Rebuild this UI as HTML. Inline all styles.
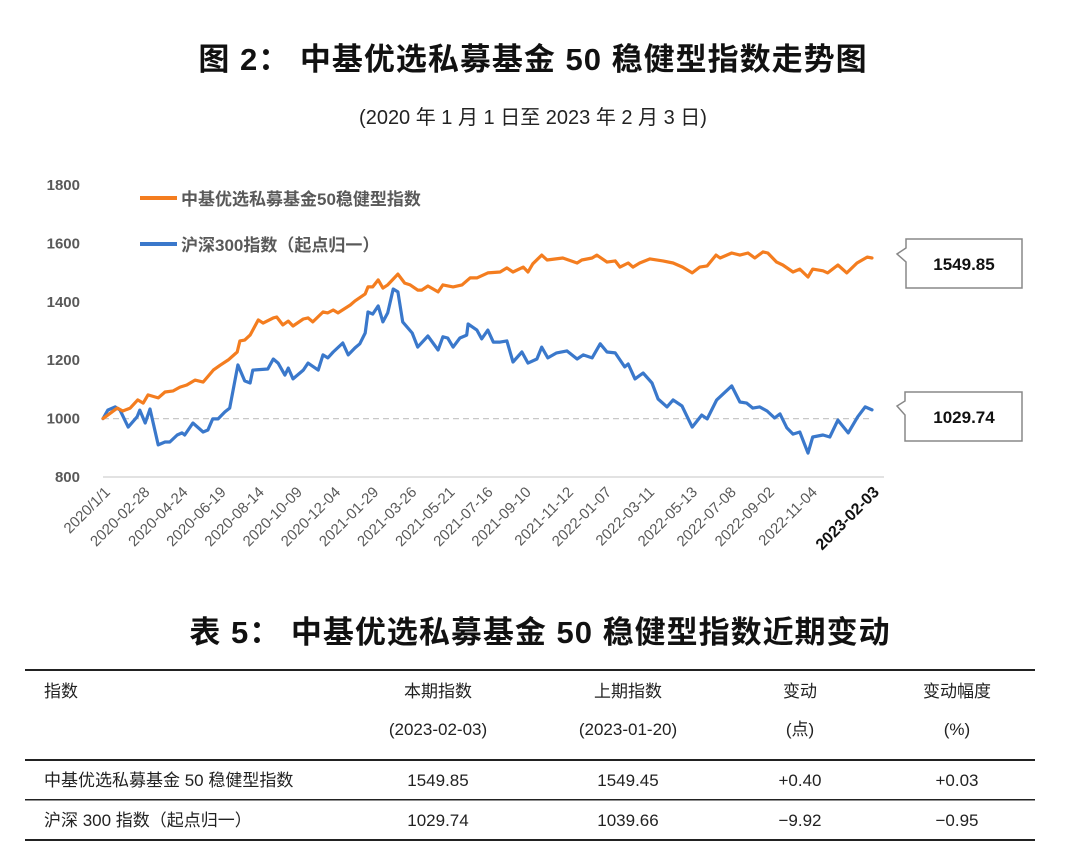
<!DOCTYPE html>
<html><head><meta charset="utf-8">
<style>
body{margin:0;background:#fff;width:1080px;height:866px;overflow:hidden;font-family:"Liberation Sans","Noto Sans CJK SC",sans-serif;}
svg{position:absolute;left:0;top:0}
</style></head>
<body>
<svg id="chart" width="1080" height="866" viewBox="0 0 1080 866">
<text x="533" y="70" text-anchor="middle" font-size="31" font-weight="bold" fill="#111" letter-spacing="1" font-family="Liberation Sans,Noto Sans CJK SC,sans-serif">图 2： 中基优选私募基金 50 稳健型指数走势图</text>
<text x="533" y="124" text-anchor="middle" font-size="20" fill="#222" font-family="Liberation Sans,Noto Sans CJK SC,sans-serif">(2020 年 1 月 1 日至 2023 年 2 月 3 日)</text>
<g id="axes"></g>
<g id="series"></g>
<g>
<line x1="140" y1="198" x2="177" y2="198" stroke="#F47D1F" stroke-width="4"/>
<text x="181" y="205" font-size="17" font-weight="bold" fill="#595959" font-family="Liberation Sans,Noto Sans CJK SC,sans-serif">中基优选私募基金50稳健型指数</text>
<line x1="140" y1="244" x2="177" y2="244" stroke="#3A78CB" stroke-width="4"/>
<text x="181" y="251" font-size="17" font-weight="bold" fill="#595959" font-family="Liberation Sans,Noto Sans CJK SC,sans-serif">沪深300指数（起点归一）</text>
</g>
<g>
<path d="M906 239 H1022 V288 H906 V262 L897 254 L906 248 Z" fill="#fff" stroke="#888" stroke-width="1.5"/>
<text x="964" y="270" text-anchor="middle" font-size="17" font-weight="bold" fill="#111">1549.85</text>
</g>
<g>
<path d="M905 392 H1022 V441 H905 V415 L897 406 L905 401 Z" fill="#fff" stroke="#888" stroke-width="1.5"/>
<text x="964" y="423" text-anchor="middle" font-size="17" font-weight="bold" fill="#111">1029.74</text>
</g>
<text x="540" y="643" text-anchor="middle" font-size="31" font-weight="bold" fill="#111" letter-spacing="1" font-family="Liberation Sans,Noto Sans CJK SC,sans-serif">表 5： 中基优选私募基金 50 稳健型指数近期变动</text>
<g font-size="17" fill="#222" font-family="Liberation Sans,Noto Sans CJK SC,sans-serif">
<rect x="25" y="669" width="1010" height="2" fill="#222"/>
<rect x="25" y="759" width="1010" height="2" fill="#222"/>
<rect x="25" y="799" width="1010" height="1.5" fill="#222"/>
<rect x="25" y="839" width="1010" height="2" fill="#222"/>
<text x="44" y="697">指数</text>
<text x="438" y="697" text-anchor="middle">本期指数</text>
<text x="628" y="697" text-anchor="middle">上期指数</text>
<text x="800" y="697" text-anchor="middle">变动</text>
<text x="957" y="697" text-anchor="middle">变动幅度</text>
<text x="438" y="735" text-anchor="middle">(2023-02-03)</text>
<text x="628" y="735" text-anchor="middle">(2023-01-20)</text>
<text x="800" y="735" text-anchor="middle">(点)</text>
<text x="957" y="735" text-anchor="middle">(%)</text>
<text x="44" y="786">中基优选私募基金 50 稳健型指数</text>
<text x="438" y="786" text-anchor="middle">1549.85</text>
<text x="628" y="786" text-anchor="middle">1549.45</text>
<text x="800" y="786" text-anchor="middle">+0.40</text>
<text x="957" y="786" text-anchor="middle">+0.03</text>
<text x="44" y="826">沪深 300 指数（起点归一）</text>
<text x="438" y="826" text-anchor="middle">1029.74</text>
<text x="628" y="826" text-anchor="middle">1039.66</text>
<text x="800" y="826" text-anchor="middle">−9.92</text>
<text x="957" y="826" text-anchor="middle">−0.95</text>
</g>
</svg>
<script>
const yTicks=[800,1000,1200,1400,1600,1800];
const tickDays=[0,58,114,170,226,282,338,394,450,506,562,618,680,736,799,862,919,975,1038,1129];
const tickLabels=["2020/1/1","2020-02-28","2020-04-24","2020-06-19","2020-08-14","2020-10-09","2020-12-04","2021-01-29","2021-03-26","2021-05-21","2021-07-16","2021-09-10","2021-11-12","2022-01-07","2022-03-11","2022-05-13","2022-07-08","2022-09-02","2022-11-04","2023-02-03"];
const fundDays=[0,21,29,40,51,59,66,81,91,103,113,123,135,147,162,172,184,197,201,208,216,228,235,250,255,264,272,279,294,301,308,323,330,338,345,363,370,385,389,396,404,411,418,433,443,451,462,468,477,492,499,514,527,539,549,565,583,593,602,617,624,631,644,652,675,696,703,718,725,740,752,759,771,778,788,803,822,837,851,865,876,887,900,906,923,935,947,957,969,976,989,998,1013,1023,1035,1042,1057,1064,1079,1092,1107,1122,1129];
const fundValues=[1000,1036,1026,1036,1064,1053,1081,1071,1091,1095,1108,1115,1132,1125,1166,1183,1201,1228,1266,1269,1286,1338,1327,1345,1348,1321,1334,1317,1341,1345,1331,1365,1362,1372,1362,1389,1403,1427,1451,1451,1475,1447,1458,1495,1464,1458,1440,1440,1454,1434,1458,1451,1458,1482,1482,1499,1502,1516,1502,1519,1502,1530,1560,1543,1550,1533,1543,1550,1560,1536,1540,1519,1533,1519,1533,1547,1540,1533,1519,1499,1519,1523,1560,1550,1567,1560,1567,1550,1571,1567,1536,1526,1502,1512,1485,1512,1506,1499,1526,1499,1533,1553,1549.85];
const csiDays=[0,7,18,25,37,50,54,62,69,81,91,98,109,116,120,132,147,154,161,169,179,186,198,208,216,220,242,250,257,267,272,279,294,301,316,323,330,338,352,360,370,377,385,389,396,404,411,418,426,433,440,454,462,477,492,499,506,514,524,534,536,549,556,565,573,583,593,602,615,624,637,644,653,666,681,696,705,718,730,740,752,766,771,781,793,806,815,828,837,850,865,879,887,901,923,935,945,954,964,975,986,994,1004,1013,1023,1035,1042,1057,1067,1079,1094,1108,1119,1129];
const csiValues=[1000,1029,1040,1029,971,1006,1029,985,1033,910,920,920,944,951,944,985,954,961,999,999,1023,1036,1184,1129,1122,1166,1170,1204,1190,1149,1173,1136,1166,1190,1166,1218,1208,1228,1259,1218,1242,1256,1293,1365,1358,1386,1331,1362,1444,1434,1331,1293,1245,1283,1235,1280,1276,1245,1276,1286,1324,1303,1273,1303,1262,1262,1266,1194,1228,1190,1204,1245,1208,1225,1232,1204,1218,1208,1256,1228,1225,1177,1187,1136,1156,1122,1067,1040,1064,1043,971,1012,999,1064,1112,1057,1053,1036,1040,1026,1002,1016,968,947,954,882,937,944,937,995,951,1006,1040,1029.74];

const X0=103,X1=872,Y0=477,Y1=185,VMIN=800,VMAX=1800,DMAX=1129;
function xScale(d){return X0+d/DMAX*(X1-X0);}
function yScale(v){return Y0-(v-VMIN)/(VMAX-VMIN)*(Y0-Y1);}
const NS="http://www.w3.org/2000/svg";
const axes=document.getElementById('axes');
const series=document.getElementById('series');
function mk(tag,attrs,parent){const e=document.createElementNS(NS,tag);for(const k in attrs)e.setAttribute(k,attrs[k]);parent.appendChild(e);return e;}

yTicks.forEach(function(v){
  const t=mk('text',{x:80,y:yScale(v)+5,'text-anchor':'end','font-size':15,'font-weight':'bold',fill:'#595959'},axes);
  
  
  t.textContent=v;
});
const base=mk('line',{x1:X0,x2:X1+12,y1:yScale(800),y2:yScale(800),stroke:'#d9d9d9','stroke-width':1.5},axes);


const ref=mk('line',{x1:X0,x2:X1,y1:yScale(1000),y2:yScale(1000),stroke:'#c8c8c8','stroke-width':1.2,'stroke-dasharray':'6,4'},axes);



tickDays.forEach(function(d,i){
  const x=xScale(d)+8,y=493;
  const last=i===tickDays.length-1;
  const t=mk('text',{x:x,y:y,'text-anchor':'end','font-size':last?16:15,fill:last?'#111':'#595959','font-weight':last?'bold':'normal',transform:'rotate(-45 '+x+' '+y+')'},axes);
  
  
  t.textContent=tickLabels[i];
});

function drawLine(days,vals,color,name){
  let d='';
  for(let i=0;i<days.length;i++){d+=(i?'L':'M')+xScale(days[i]).toFixed(1)+' '+yScale(vals[i]).toFixed(1);}
  const p=mk('path',{d:d,fill:'none',stroke:color,'stroke-width':3.2,'stroke-linejoin':'round','stroke-linecap':'round'},series);
  
  
}
drawLine(csiDays,csiValues,'#3A78CB','csi300-line');
drawLine(fundDays,fundValues,'#F47D1F','private-fund-line');
</script>
</body></html>
